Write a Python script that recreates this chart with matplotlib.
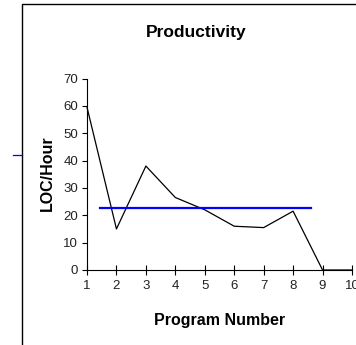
import matplotlib
matplotlib.use("Agg")
import matplotlib.pyplot as plt
from matplotlib.lines import Line2D

plt.rcParams['font.family'] = ['Liberation Sans', 'DejaVu Sans']

# Productivity per program
program = [1, 2, 3, 4, 5, 6, 7, 8, 9, 10]
loc_per_hour = [59.5, 15, 38, 26.5, 22, 16, 15.5, 21.5, 0, 0]

# Average productivity line
avg_value = 22.5
avg_span = [1.44, 8.6]

x_ticks = [1, 2, 3, 4, 5, 6, 7, 8, 9, 10]
y_ticks = [0, 10, 20, 30, 40, 50, 60, 70]

W, H = 356, 345
fig = plt.figure(figsize=(W / 100, H / 100), dpi=100)
fig.patch.set_facecolor('white')

ax = fig.add_axes([87 / W, 75 / H, 265 / W, 191.5 / H])
ax.plot(program, loc_per_hour, color='black', lw=0.9, clip_on=False)
ax.plot(avg_span, [avg_value, avg_value], color='#0000ff', lw=1.6, clip_on=False)

ax.set_xlim(1, 10)
ax.set_ylim(0, 70)
ax.set_xticks(x_ticks)
ax.set_yticks(y_ticks)
ax.tick_params(axis='x', direction='inout', length=7, width=0.8, labelsize=9.5,
               labelcolor='#222222', pad=4)
ax.tick_params(axis='y', direction='out', length=3.5, width=0.8, labelsize=9.5,
               labelcolor='#222222', pad=3)
for s in ('top', 'right'):
    ax.spines[s].set_visible(False)
for s in ('left', 'bottom'):
    ax.spines[s].set_linewidth(0.8)
ax.patch.set_visible(False)

fig.text(220 / W, 1 - 320 / H, 'Program Number', fontsize=11.5, fontweight='bold',
         ha='center', va='center')
fig.text(47 / W, 1 - 173 / H, 'LOC/Hour', fontsize=11.5, fontweight='bold',
         rotation=90, ha='center', va='center')
fig.text(196 / W, 1 - 32 / H, 'Productivity', fontsize=12.5, fontweight='bold',
         ha='center', va='center')

# Chart frame (left and top edges) and small marker on the left edge
fig.add_artist(Line2D([22 / W, 22 / W, 1.0], [0.0, 1 - 4 / H, 1 - 4 / H],
                      transform=fig.transFigure, color='black', lw=1.0))
fig.add_artist(Line2D([13 / W, 22 / W], [1 - 155 / H, 1 - 155 / H],
                      transform=fig.transFigure, color='#0000ff', lw=0.9))

fig.savefig('out.png', dpi=100, facecolor='white')
